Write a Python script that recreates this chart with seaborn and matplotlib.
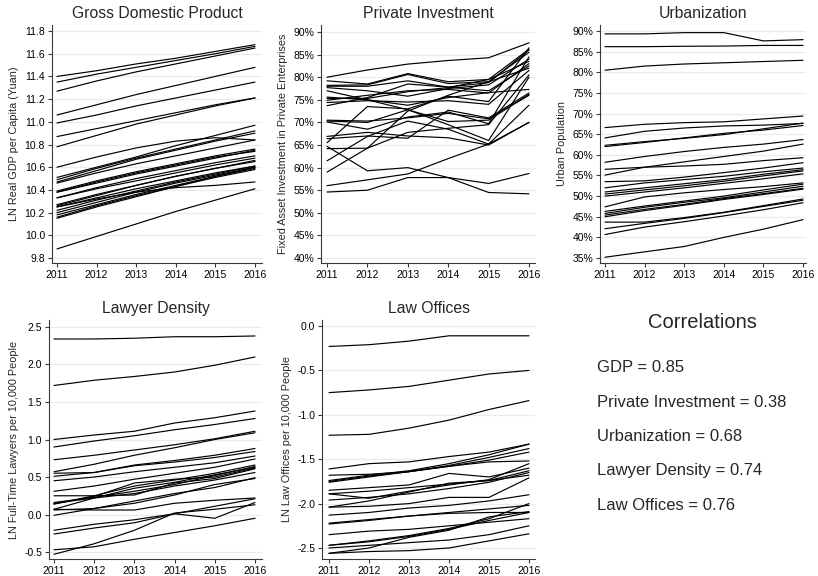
import numpy as np
import pandas as pd
import matplotlib
matplotlib.use("Agg")
import matplotlib.pyplot as plt
from matplotlib.ticker import FuncFormatter
import seaborn as sns

years = [2011, 2012, 2013, 2014, 2015, 2016]

# LN real GDP per capita, one row per province
gdp = [
    [11.40, 11.45, 11.51, 11.56, 11.62, 11.68],
    [11.35, 11.42, 11.48, 11.54, 11.60, 11.665],
    [11.27, 11.36, 11.44, 11.51, 11.58, 11.65],
    [11.06, 11.15, 11.24, 11.32, 11.40, 11.48],
    [10.99, 11.06, 11.14, 11.21, 11.28, 11.35],
    [10.87, 10.94, 11.01, 11.08, 11.15, 11.21],
    [10.78, 10.88, 10.98, 11.06, 11.14, 11.21],
    [10.60, 10.69, 10.77, 10.83, 10.86, 10.84],
    [10.51, 10.60, 10.69, 10.79, 10.88, 10.97],
    [10.49, 10.59, 10.68, 10.76, 10.84, 10.92],
    [10.47, 10.57, 10.67, 10.75, 10.83, 10.90],
    [10.46, 10.55, 10.63, 10.70, 10.77, 10.84],
    [10.39, 10.48, 10.56, 10.63, 10.70, 10.76],
    [10.38, 10.47, 10.55, 10.62, 10.69, 10.74],
    [10.38, 10.46, 10.54, 10.61, 10.68, 10.75],
    [10.33, 10.42, 10.50, 10.57, 10.64, 10.70],
    [10.33, 10.41, 10.48, 10.55, 10.62, 10.68],
    [10.27, 10.36, 10.44, 10.52, 10.59, 10.65],
    [10.26, 10.35, 10.44, 10.52, 10.59, 10.66],
    [10.25, 10.33, 10.41, 10.48, 10.55, 10.61],
    [10.22, 10.31, 10.39, 10.47, 10.54, 10.61],
    [10.20, 10.29, 10.38, 10.46, 10.53, 10.60],
    [10.18, 10.27, 10.36, 10.44, 10.52, 10.59],
    [10.16, 10.26, 10.35, 10.43, 10.51, 10.58],
    [10.15, 10.25, 10.34, 10.43, 10.52, 10.60],
    [10.25, 10.32, 10.38, 10.42, 10.44, 10.47],
    [9.88, 9.99, 10.10, 10.21, 10.31, 10.41],
]

# Share of fixed asset investment by private enterprises (%)
private_inv = [
    [80.0, 81.6, 82.9, 83.7, 84.3, 87.6],
    [79.2, 78.5, 80.8, 79.0, 79.5, 86.2],
    [78.2, 78.3, 80.6, 78.6, 79.0, 82.0],
    [78.0, 78.0, 79.2, 77.8, 78.8, 86.0],
    [77.7, 77.0, 75.8, 77.5, 78.3, 84.0],
    [77.0, 75.0, 72.8, 69.5, 66.0, 80.0],
    [75.6, 75.0, 73.8, 75.5, 76.6, 77.3],
    [75.3, 75.3, 76.8, 77.7, 79.5, 83.5],
    [74.9, 76.0, 77.0, 77.3, 76.5, 83.0],
    [74.4, 74.8, 74.5, 74.8, 74.0, 81.5],
    [73.7, 75.5, 78.5, 77.8, 77.0, 82.5],
    [70.5, 70.3, 71.0, 72.0, 70.8, 76.0],
    [70.3, 70.0, 72.8, 70.2, 70.5, 76.2],
    [70.1, 68.5, 71.2, 72.3, 69.7, 84.5],
    [66.9, 67.8, 67.0, 66.6, 65.0, 70.0],
    [66.4, 67.0, 66.5, 72.7, 71.0, 76.5],
    [65.5, 73.5, 73.0, 75.8, 74.6, 86.5],
    [64.7, 59.3, 60.0, 57.8, 56.5, 58.7],
    [64.2, 64.3, 67.8, 68.7, 69.5, 80.5],
    [61.5, 66.9, 70.3, 68.5, 65.2, 73.8],
    [59.0, 64.3, 72.5, 76.0, 79.0, 85.5],
    [56.0, 57.3, 58.6, 62.0, 65.2, 70.0],
    [54.6, 55.0, 57.8, 57.8, 54.5, 54.2],
]

# Urban population share (%)
urban = [
    [89.3, 89.3, 89.6, 89.6, 87.6, 87.9],
    [86.2, 86.2, 86.3, 86.35, 86.5, 86.5],
    [80.5, 81.5, 82.0, 82.3, 82.6, 82.9],
    [66.6, 67.4, 67.8, 68.0, 68.7, 69.4],
    [64.1, 65.7, 66.5, 67.0, 67.2, 67.6],
    [62.3, 63.2, 64.0, 64.9, 66.3, 67.7],
    [62.0, 63.0, 64.1, 65.2, 66.0, 67.1],
    [58.2, 59.6, 60.8, 61.8, 62.6, 63.7],
    [56.5, 57.0, 57.3, 57.7, 58.6, 59.3],
    [55.1, 57.0, 58.3, 59.6, 60.9, 62.6],
    [53.5, 53.7, 54.6, 55.7, 56.8, 58.1],
    [52.0, 53.2, 54.0, 54.8, 55.9, 56.8],
    [51.0, 52.0, 53.0, 54.0, 55.3, 56.4],
    [50.5, 51.5, 52.5, 53.6, 54.9, 56.1],
    [50.0, 51.0, 52.0, 53.1, 54.2, 55.4],
    [47.4, 49.8, 50.8, 51.6, 52.3, 53.2],
    [46.3, 47.6, 48.8, 50.0, 51.5, 52.9],
    [45.8, 47.3, 48.5, 49.6, 51.0, 52.4],
    [45.4, 46.8, 48.0, 49.4, 50.6, 51.9],
    [45.0, 46.5, 47.8, 49.2, 50.4, 51.7],
    [43.7, 43.7, 44.8, 46.1, 47.7, 49.3],
    [42.1, 43.4, 44.6, 46.0, 47.5, 49.0],
    [40.7, 42.5, 43.8, 45.2, 46.7, 48.4],
    [35.2, 36.5, 37.8, 40.0, 42.0, 44.3],
]

# LN full-time lawyers per 10,000 people
lawyers = [
    [2.34, 2.34, 2.35, 2.37, 2.37, 2.38],
    [1.72, 1.79, 1.84, 1.90, 1.99, 2.10],
    [1.00, 1.06, 1.11, 1.22, 1.29, 1.38],
    [0.90, 0.98, 1.05, 1.13, 1.20, 1.28],
    [0.73, 0.79, 0.86, 0.93, 1.01, 1.11],
    [0.57, 0.67, 0.79, 0.89, 1.00, 1.09],
    [0.55, 0.56, 0.66, 0.72, 0.79, 0.88],
    [0.51, 0.56, 0.65, 0.70, 0.76, 0.84],
    [0.45, 0.50, 0.57, 0.63, 0.69, 0.78],
    [0.31, 0.38, 0.47, 0.55, 0.63, 0.74],
    [0.25, 0.25, 0.38, 0.46, 0.55, 0.66],
    [0.16, 0.23, 0.31, 0.40, 0.52, 0.64],
    [0.15, 0.22, 0.35, 0.43, 0.53, 0.63],
    [0.14, 0.24, 0.42, 0.47, 0.50, 0.62],
    [0.14, 0.25, 0.26, 0.42, 0.48, 0.61],
    [0.07, 0.22, 0.28, 0.38, 0.46, 0.56],
    [0.06, 0.08, 0.18, 0.28, 0.36, 0.49],
    [-0.01, 0.08, 0.15, 0.26, 0.40, 0.48],
    [0.07, 0.06, 0.06, 0.15, 0.19, 0.22],
    [-0.21, -0.13, -0.07, 0.01, 0.11, 0.21],
    [-0.26, -0.18, -0.11, 0.01, -0.05, 0.16],
    [-0.47, -0.43, -0.33, -0.24, -0.15, -0.05],
    [-0.53, -0.39, -0.21, 0.02, 0.07, 0.13],
]

# LN law offices per 10,000 people
law_offices = [
    [-0.23, -0.21, -0.17, -0.11, -0.11, -0.11],
    [-0.75, -0.72, -0.68, -0.61, -0.54, -0.50],
    [-1.23, -1.22, -1.15, -1.06, -0.94, -0.84],
    [-1.61, -1.55, -1.53, -1.47, -1.42, -1.33],
    [-1.68, -1.67, -1.64, -1.58, -1.53, -1.52],
    [-1.74, -1.68, -1.63, -1.55, -1.45, -1.33],
    [-1.75, -1.69, -1.64, -1.57, -1.48, -1.38],
    [-1.76, -1.70, -1.64, -1.58, -1.51, -1.42],
    [-1.85, -1.82, -1.79, -1.66, -1.70, -1.60],
    [-1.89, -1.94, -1.86, -1.79, -1.73, -1.55],
    [-1.89, -1.86, -1.82, -1.78, -1.74, -1.63],
    [-1.96, -1.93, -1.89, -1.83, -1.76, -1.65],
    [-2.04, -1.97, -1.87, -1.77, -1.74, -1.68],
    [-2.04, -2.03, -2.00, -1.93, -1.93, -1.71],
    [-2.13, -2.10, -2.05, -2.02, -1.97, -1.90],
    [-2.22, -2.18, -2.14, -2.10, -2.06, -2.02],
    [-2.23, -2.19, -2.14, -2.11, -2.10, -2.10],
    [-2.35, -2.31, -2.29, -2.25, -2.21, -2.17],
    [-2.47, -2.42, -2.36, -2.28, -2.17, -2.00],
    [-2.47, -2.43, -2.37, -2.29, -2.19, -2.10],
    [-2.50, -2.47, -2.44, -2.41, -2.35, -2.25],
    [-2.56, -2.50, -2.38, -2.30, -2.15, -2.09],
    [-2.56, -2.54, -2.53, -2.50, -2.42, -2.34],
]

correlations = [
    ("GDP", 0.85),
    ("Private Investment", 0.38),
    ("Urbanization", 0.68),
    ("Lawyer Density", 0.74),
    ("Law Offices", 0.76),
]


def to_long(rows):
    recs = []
    for i, row in enumerate(rows):
        for yr, v in zip(years, row):
            recs.append({"unit": i, "year": yr, "value": v})
    return pd.DataFrame(recs)


sns.set_style("white")
plt.rcParams["font.family"] = ["Liberation Sans", "DejaVu Sans"]
plt.rcParams["axes.unicode_minus"] = False

W, H = 818, 576
fig = plt.figure(figsize=(W / 100, H / 100), dpi=100)
fig.patch.set_facecolor("white")


def px_axes(left, top, right, bottom):
    return fig.add_axes([left / W, 1 - bottom / H, (right - left) / W, (bottom - top) / H])


pct = FuncFormatter(lambda v, _: f"{v:.0f}%")
one_dec = FuncFormatter(lambda v, _: f"{v:.1f}")

panels = [
    dict(rows=gdp, rect=(52, 25, 262, 263), title="Gross Domestic Product",
         ylabel="LN Real GDP per Capita (Yuan)", ylim=(9.756, 11.853),
         xlim=(2010.874, 2016.177), yticks=np.arange(9.8, 11.81, 0.2), fmt=one_dec),
    dict(rows=private_inv, rect=(321, 25, 535, 263), title="Private Investment",
         ylabel="Fixed Asset Investment in Private Enterprises", ylim=(38.9, 91.55),
         xlim=(2010.851, 2016.149), yticks=np.arange(40, 91, 5), fmt=pct),
    dict(rows=urban, rect=(600, 25, 806, 263), title="Urbanization",
         ylabel="Urban Population", ylim=(33.8, 91.45),
         xlim=(2010.874, 2016.075), yticks=np.arange(35, 91, 5), fmt=pct),
    dict(rows=lawyers, rect=(49, 320, 262, 559), title="Lawyer Density",
         ylabel="LN Full-Time Lawyers per 10,000 People", ylim=(-0.593, 2.593),
         xlim=(2010.876, 2016.174), yticks=np.arange(-0.5, 2.51, 0.5), fmt=one_dec),
    dict(rows=law_offices, rect=(322, 320, 535, 559), title="Law Offices",
         ylabel="LN Law Offices per 10,000 People", ylim=(-2.624, 0.068),
         xlim=(2010.825, 2016.15), yticks=np.arange(-2.5, 0.01, 0.5), fmt=one_dec),
]

axis_col = "#3a3a3a"
for p in panels:
    ax = px_axes(*p["rect"])
    df = to_long(p["rows"])
    sns.lineplot(data=df, x="year", y="value", units="unit", estimator=None,
                 color="black", linewidth=0.85, ax=ax, legend=False)
    ax.set_xlim(*p["xlim"])
    ax.set_ylim(*p["ylim"])
    ax.set_xticks(years)
    ax.set_yticks(p["yticks"])
    ax.yaxis.set_major_formatter(p["fmt"])
    ax.grid(axis="y", color="#e6eef0", linewidth=0.9)
    ax.set_axisbelow(True)
    for s in ("top", "right"):
        ax.spines[s].set_visible(False)
    for s in ("left", "bottom"):
        ax.spines[s].set_color(axis_col)
        ax.spines[s].set_linewidth(0.8)
    ax.tick_params(axis="both", direction="out", length=3, width=0.8,
                   color=axis_col, labelsize=7.5, labelcolor="black", pad=2,
                   bottom=True, left=True)
    ax.set_xlabel("")
    ax.set_ylabel(p["ylabel"], fontsize=7.8, labelpad=4)
    ax.set_title(p["title"], fontsize=11.3, pad=5)

# correlation summary
fig.text(702 / W, 1 - 322 / H, "Correlations", fontsize=14.5,
         ha="center", va="center")
for i, (name, r) in enumerate(correlations):
    y = 368 + i * 34.3
    fig.text(597 / W, 1 - y / H, f"{name} = {r:.2f}", fontsize=12,
             ha="left", va="center")

fig.savefig("out.png", dpi=100, facecolor="white")
